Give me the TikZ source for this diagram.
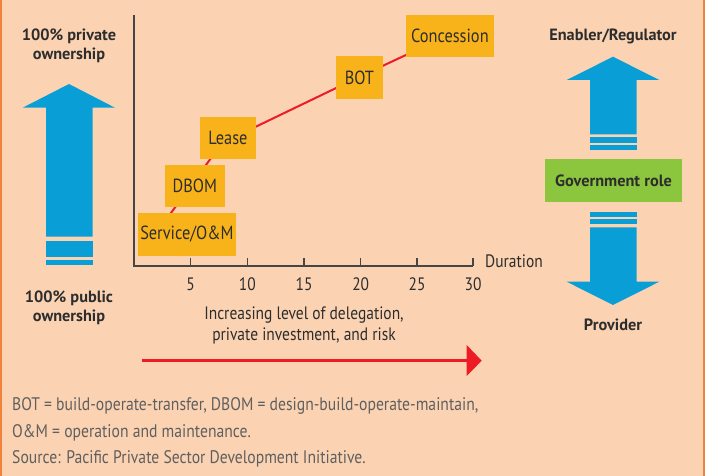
\documentclass[tikz,border=0pt]{standalone}
\usepackage{fontspec}
\setmainfont{PT Sans}[FakeStretch=0.86]
\newfontfamily\boldfam{PT Sans}
\definecolor{bgc}{RGB}{251,211,178}
\definecolor{borderc}{RGB}{240,130,60}
\definecolor{bluec}{RGB}{9,159,214}
\definecolor{boxc}{RGB}{249,179,26}
\definecolor{greenc}{RGB}{140,198,63}
\definecolor{redc}{RGB}{237,28,36}
\definecolor{txtc}{RGB}{45,45,45}
\definecolor{footc}{RGB}{95,95,95}
\definecolor{axisc}{RGB}{70,70,70}
\begin{document}
\begin{tikzpicture}[x=1pt,y=-1pt,
  plabel/.style={inner sep=0pt, text=txtc, font=\fontsize{19}{22}\selectfont},
  pbox/.style={fill=boxc, inner sep=0pt, text=txtc, font=\fontsize{19}{22}\selectfont},
  boldlab/.style={inner sep=0pt, text=txtc, font=\boldfam\fontsize{16.3}{19}\selectfont\bfseries, align=center},
  ticklab/.style={inner sep=0pt, text=txtc, font=\fontsize{18}{20}\selectfont},
  midlab/.style={inner sep=0pt, text=txtc, font=\fontsize{18}{21}\selectfont, align=center},
  footlab/.style={inner sep=0pt, text=footc, font=\fontsize{18.2}{22}\selectfont, anchor=west},
  bluefill/.style={fill=bluec, draw=none}]
\useasboundingbox (0,0) rectangle (705,476);
\fill[bgc] (0,0) rectangle (705,476);
\fill[borderc] (0,0) rectangle (1.5,476);
\fill[borderc] (703,0) rectangle (705,476);

% axes
\coordinate (ytop) at (134,15);
\coordinate (orig) at (134,266);
\coordinate (xend) at (473,266);
\draw[axisc, line width=1.3pt] (ytop) -- (orig) -- (xend);
\foreach \x/\l in {190.7/5,247.3/10,304/15,360.7/20,417/25,473/30}{
  \draw[axisc, line width=1.2pt] (\x,266) -- (\x,258);
  \node[ticklab] at (\x,284.5) {\l};
}
\node[plabel, anchor=west, font=\fontsize{18}{20}\selectfont] (dur) at (485,261) {Duration};

% red line
\coordinate (ra) at (169.5,215);
\coordinate (rb) at (222,143);
\coordinate (rc) at (359,77);
\coordinate (rd) at (440,39);
\draw[redc, line width=2pt] (ra) -- (rb) -- (rc) -- (rd);

% boxes
\node[pbox, minimum width=97.7pt, minimum height=42.4pt] (svc) at (186.9,234.5) {Service/O\&M};
\node[pbox, minimum width=59.7pt, minimum height=42.3pt] (dbom) at (194.9,186.2) {DBOM};
\node[pbox, minimum width=55.7pt, minimum height=42.3pt] (lease) at (227.9,138.2) {Lease};
\node[pbox, minimum width=46.7pt, minimum height=42.7pt] (bot) at (359.4,77.4) {BOT};
\node[pbox, minimum width=87.7pt, minimum height=42.3pt] (conc) at (449.9,36.2) {Concession};

% mid text
\node[midlab] (incr) at (304,325.5) {Increasing level of delegation,\\private investment, and risk};

% red arrow
\coordinate (rs) at (141.7,360.7);
\coordinate (re) at (468,360.7);
\draw[redc, line width=3pt] (rs) -- (re);
\fill[redc] (466.7,345) -- (481.7,360.7) -- (466.7,376) -- cycle;

% left arrow
\node[boldlab] (priv) at (69,46) {100\% private\\ownership};
\node[boldlab] (pub) at (69,308) {100\% public\\ownership};
\fill[bluefill] (46,236.7) -- (46,107.7) -- (22.7,107.7) -- (69,84) -- (115,107.7) -- (92.7,107.7) -- (92.7,236.7) -- cycle;
\fill[bluefill] (46,241) rectangle (92.7,256.7);
\fill[bluefill] (46,260) rectangle (92.7,265);

% right side
\node[boldlab] (enab) at (613,36) {Enabler/Regulator};
\fill[bluefill] (590,134.3) -- (590,80) -- (566.7,80) -- (613,56.7) -- (659.3,80) -- (636.7,80) -- (636.7,134.3) -- cycle;
\fill[bluefill] (590,137.3) rectangle (636.7,142.7);
\fill[bluefill] (590,144.7) rectangle (636.7,150);
\node[boldlab, fill=greenc, minimum width=137pt, minimum height=42.7pt] (gov) at (613.5,180.3) {Government role};
\fill[bluefill] (590,212) rectangle (636.7,216.7);
\fill[bluefill] (590,218.7) rectangle (636.7,224);
\fill[bluefill] (590,227.3) -- (590,281.7) -- (566.7,281.7) -- (613,305) -- (659.3,281.7) -- (636.7,281.7) -- (636.7,227.3) -- cycle;
\node[boldlab] (prov) at (613,325) {Provider};

% footnote
\node[footlab] (f1) at (12,406) {BOT = build-operate-transfer, DBOM = design-build-operate-maintain,};
\node[footlab] (f2) at (12,433) {O\&M = operation and maintenance.};
\node[footlab] (f3) at (12,458.5) {Source: Pacific Private Sector Development Initiative.};
\end{tikzpicture}
\end{document}
